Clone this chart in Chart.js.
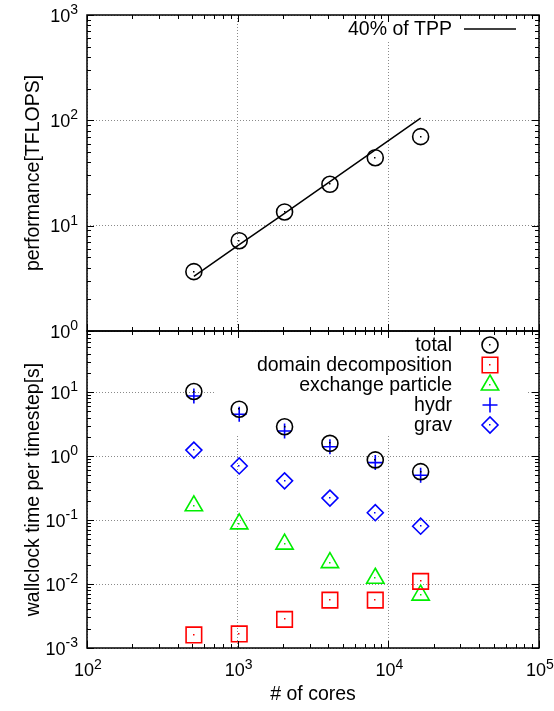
<!DOCTYPE html>
<html>
<head>
<meta charset="utf-8">
<script src="https://cdn.jsdelivr.net/npm/chart.js@4"></script>
<style>
  body { margin: 0; background: #fff; }
  #wrap { position: relative; width: 554px; height: 711px; }
  canvas { position: absolute; left: 0; top: 0; }
</style>
</head>
<body>
<div id="wrap">
  <canvas id="chart-perf" width="554" height="711"></canvas>
  <canvas id="chart-time" width="554" height="711"></canvas>
</div>
<script>
// number of cores (x axis, shared)
const cores = [512, 1024, 2048, 4096, 8192, 16384];

// top panel: performance [TFLOPS]
const perfTotal = [3.66, 7.2, 13.5, 24.7, 44.2, 70];
const tpp40 = [3.3, 6.6, 13.1, 26.2, 52.4, 105];

// bottom panel: wallclock time per timestep [s]
const timeTotal = [10.2, 5.4, 2.87, 1.58, 0.87, 0.57];
const timeDomain = [0.0016, 0.00166, 0.0028, 0.0056, 0.0056, 0.011];
const timeExchange = [0.167, 0.087, 0.042, 0.0216, 0.0123, 0.0067];
const timeHydr = [8.7, 4.5, 2.46, 1.4, 0.79, 0.50];
const timeGrav = [1.24, 0.70, 0.41, 0.22, 0.13, 0.080];

// tick values (decades)
const xTicks = [100, 1000, 10000, 100000];
const perfTicks = [1, 10, 100, 1000];
const timeTicks = [0.001, 0.01, 0.1, 1, 10];

const FONT = "'Liberation Sans', Arial, sans-serif";

function pts(ys) {
    return cores.map((c, i) => ({ x: c, y: ys[i] }));
}

function drawPow(ctx, exp, x, y, align) {
    // "10" with superscript exponent; y = baseline of "10"
    const base = '10', sup = String(exp);
    ctx.font = '18px ' + FONT;
    const wb = ctx.measureText(base).width;
    ctx.font = '14px ' + FONT;
    const ws = ctx.measureText(sup).width;
    let x0;
    if (align === 'right') x0 = x - wb - ws;
    else x0 = x - (wb + ws) / 2;
    ctx.textAlign = 'left';
    ctx.textBaseline = 'alphabetic';
    ctx.font = '18px ' + FONT;
    ctx.fillText(base, x0, y);
    ctx.font = '14px ' + FONT;
    ctx.fillText(sup, x0 + wb, y - 7.5);
}

function logMarks(min, max) {
    const out = [];
    for (let d = Math.floor(Math.log10(min)); d <= Math.ceil(Math.log10(max)); d++) {
        for (let m = 1; m <= 9; m++) {
            const v = m * Math.pow(10, d);
            if (v >= min * 0.999 && v <= max * 1.001) out.push({ v: v, major: m === 1 });
        }
    }
    return out;
}

const framePlugin = {
    id: 'frame',
    beforeDatasetsDraw(chart, args, opts) {
        // opaque key box, like gnuplot
        const b = opts.keyBox;
        if (!b) return;
        const ctx = chart.ctx;
        ctx.save();
        ctx.fillStyle = '#fff';
        ctx.fillRect(b[0], b[1], b[2] - b[0], b[3] - b[1]);
        ctx.restore();
    },
    afterDatasetsDraw(chart) {
        // little dot in the middle of each marker
        const ctx = chart.ctx;
        ctx.save();
        chart.data.datasets.forEach((ds, i) => {
            if (!ds.dot) return;
            ctx.fillStyle = ds.borderColor;
            chart.getDatasetMeta(i).data.forEach(el => {
                ctx.fillRect(Math.round(el.x) - 1, Math.round(el.y) - 1, 1.5, 1.5);
            });
        });
        ctx.restore();
    },
    afterDraw(chart, args, opts) {
        const ctx = chart.ctx;
        const a = chart.chartArea;
        const xs = chart.scales.x, ys = chart.scales.y;
        ctx.save();
        ctx.strokeStyle = '#000';
        ctx.fillStyle = '#000';
        ctx.lineWidth = 1.5;
        ctx.strokeRect(a.left, a.top, a.right - a.left, a.bottom - a.top);

        ctx.lineWidth = 1;
        ctx.beginPath();
        logMarks(xs.min, xs.max).forEach(t => {
            const px = Math.round(xs.getPixelForValue(t.v)) + 0.5;
            const len = t.major ? 7 : 4;
            ctx.moveTo(px, a.bottom); ctx.lineTo(px, a.bottom - len);
            ctx.moveTo(px, a.top); ctx.lineTo(px, a.top + len);
        });
        logMarks(ys.min, ys.max).forEach(t => {
            const py = Math.round(ys.getPixelForValue(t.v)) + 0.5;
            const len = t.major ? 7 : 4;
            ctx.moveTo(a.left, py); ctx.lineTo(a.left + len, py);
            ctx.moveTo(a.right, py); ctx.lineTo(a.right - len, py);
        });
        ctx.stroke();

        // y tick labels
        opts.yTicks.forEach(v => {
            const py = ys.getPixelForValue(v);
            drawPow(ctx, Math.round(Math.log10(v)), 78, py + 6.5, 'right');
        });
        // x tick labels
        if (opts.xLabels) {
            xTicks.forEach(v => {
                const px = xs.getPixelForValue(v);
                drawPow(ctx, Math.round(Math.log10(v)), px + 1, a.bottom + 28, 'center');
            });
            ctx.font = '19.5px ' + FONT;
            ctx.textAlign = 'center';
            ctx.textBaseline = 'alphabetic';
            ctx.fillText(opts.xTitle, (a.left + a.right) / 2, 700);
        }
        // y title
        ctx.save();
        ctx.translate(39, (a.top + a.bottom) / 2);
        ctx.rotate(-Math.PI / 2);
        ctx.font = '19.5px ' + FONT;
        ctx.textAlign = 'center';
        ctx.textBaseline = 'alphabetic';
        ctx.fillText(opts.yTitle, 0, 0);
        ctx.restore();

        // key
        const k = opts.key;
        let row = 0;
        chart.data.datasets.forEach(ds => {
            if (!ds.label) return;
            const y = k.y + row * k.dy;
            row++;
            ctx.font = '19.5px ' + FONT;
            ctx.fillStyle = '#000';
            ctx.textAlign = 'right';
            ctx.textBaseline = 'middle';
            ctx.fillText(ds.label, k.textRight, y + 1);
            ctx.strokeStyle = ds.borderColor;
            ctx.lineWidth = ds.borderWidth;
            if (ds.showLine) {
                ctx.beginPath();
                ctx.moveTo(k.symX - 26, y); ctx.lineTo(k.symX + 26, y);
                ctx.stroke();
            } else {
                ctx.fillStyle = 'rgba(0,0,0,0)';
                Chart.helpers.drawPoint(ctx, {
                    pointStyle: ds.pointStyle, radius: ds.pointRadius,
                    rotation: 0, borderWidth: ds.borderWidth
                }, k.symX, y);
                if (ds.dot) {
                    ctx.fillStyle = ds.borderColor;
                    ctx.fillRect(k.symX - 1, y - 1, 1.5, 1.5);
                }
            }
        });
        ctx.restore();
    }
};

function xScale() {
    return {
        type: 'logarithmic', min: 100, max: 100000,
        afterBuildTicks: s => { s.ticks = xTicks.map(v => ({ value: v })); },
        afterFit: s => { s.height = 0; },
        ticks: { display: false },
        grid: { color: '#8a8a8a', lineWidth: 1, drawTicks: false },
        border: { display: false, dash: [1, 2] }
    };
}

function yScale(min, max, ticks) {
    return {
        type: 'logarithmic', min: min, max: max,
        afterBuildTicks: s => { s.ticks = ticks.map(v => ({ value: v })); },
        afterFit: s => { s.width = 0; },
        ticks: { display: false },
        grid: { color: '#8a8a8a', lineWidth: 1, drawTicks: false },
        border: { display: false, dash: [1, 2] }
    };
}

function marker(label, data, style, radius, color, width) {
    return {
        label: label, data: pts(data), showLine: false,
        pointStyle: style, pointRadius: radius, pointHoverRadius: radius,
        borderColor: color, backgroundColor: 'rgba(0,0,0,0)',
        pointBorderColor: color, pointBackgroundColor: 'rgba(0,0,0,0)',
        borderWidth: width, pointBorderWidth: width, dot: style !== 'cross'
    };
}

Chart.defaults.font.family = FONT;

new Chart(document.getElementById('chart-perf').getContext('2d'), {
    type: 'scatter',
    data: {
        datasets: [{
            label: '40% of TPP', data: pts(tpp40), showLine: true,
            borderColor: '#000', borderWidth: 1.5, pointRadius: 0, fill: false
        }, {
            ...marker('total', perfTotal, 'circle', 8, '#000', 1.6),
            label: ''
        }]
    },
    options: {
        responsive: false, animation: false, events: [],
        layout: { padding: { left: 87, right: 15, top: 15, bottom: 380 } },
        scales: { x: xScale(), y: yScale(1, 1000, perfTicks) },
        plugins: {
            legend: { display: false }, tooltip: { enabled: false },
            frame: {
                yTicks: perfTicks, yTitle: 'performance[TFLOPS]', xLabels: false,
                keyBox: [300, 16, 527, 40],
                key: { y: 29, dy: 0, textRight: 452, symX: 490 }
            }
        }
    },
    plugins: [framePlugin]
});

new Chart(document.getElementById('chart-time').getContext('2d'), {
    type: 'scatter',
    data: {
        datasets: [
            marker('total', timeTotal, 'circle', 8, '#000', 1.6),
            marker('domain decomposition', timeDomain, 'rect', 11, '#ff0000', 1.6),
            marker('exchange particle', timeExchange, 'triangle', 10, '#00ee00', 1.6),
            marker('hydr', timeHydr, 'cross', 7.5, '#0000ff', 1.6),
            marker('grav', timeGrav, 'rectRot', 8, '#0000ff', 1.6)
        ]
    },
    options: {
        responsive: false, animation: false, events: [],
        layout: { padding: { left: 87, right: 15, top: 331, bottom: 63 } },
        scales: { x: xScale(), y: yScale(0.001, 90, timeTicks) },
        plugins: {
            legend: { display: false }, tooltip: { enabled: false },
            frame: {
                yTicks: timeTicks, yTitle: 'wallclock time per timestep[s]',
                xLabels: true, xTitle: '# of cores',
                keyBox: [215, 332, 527, 435],
                key: { y: 345, dy: 20, textRight: 452, symX: 490 }
            }
        }
    },
    plugins: [framePlugin]
});
</script>
</body>
</html>
